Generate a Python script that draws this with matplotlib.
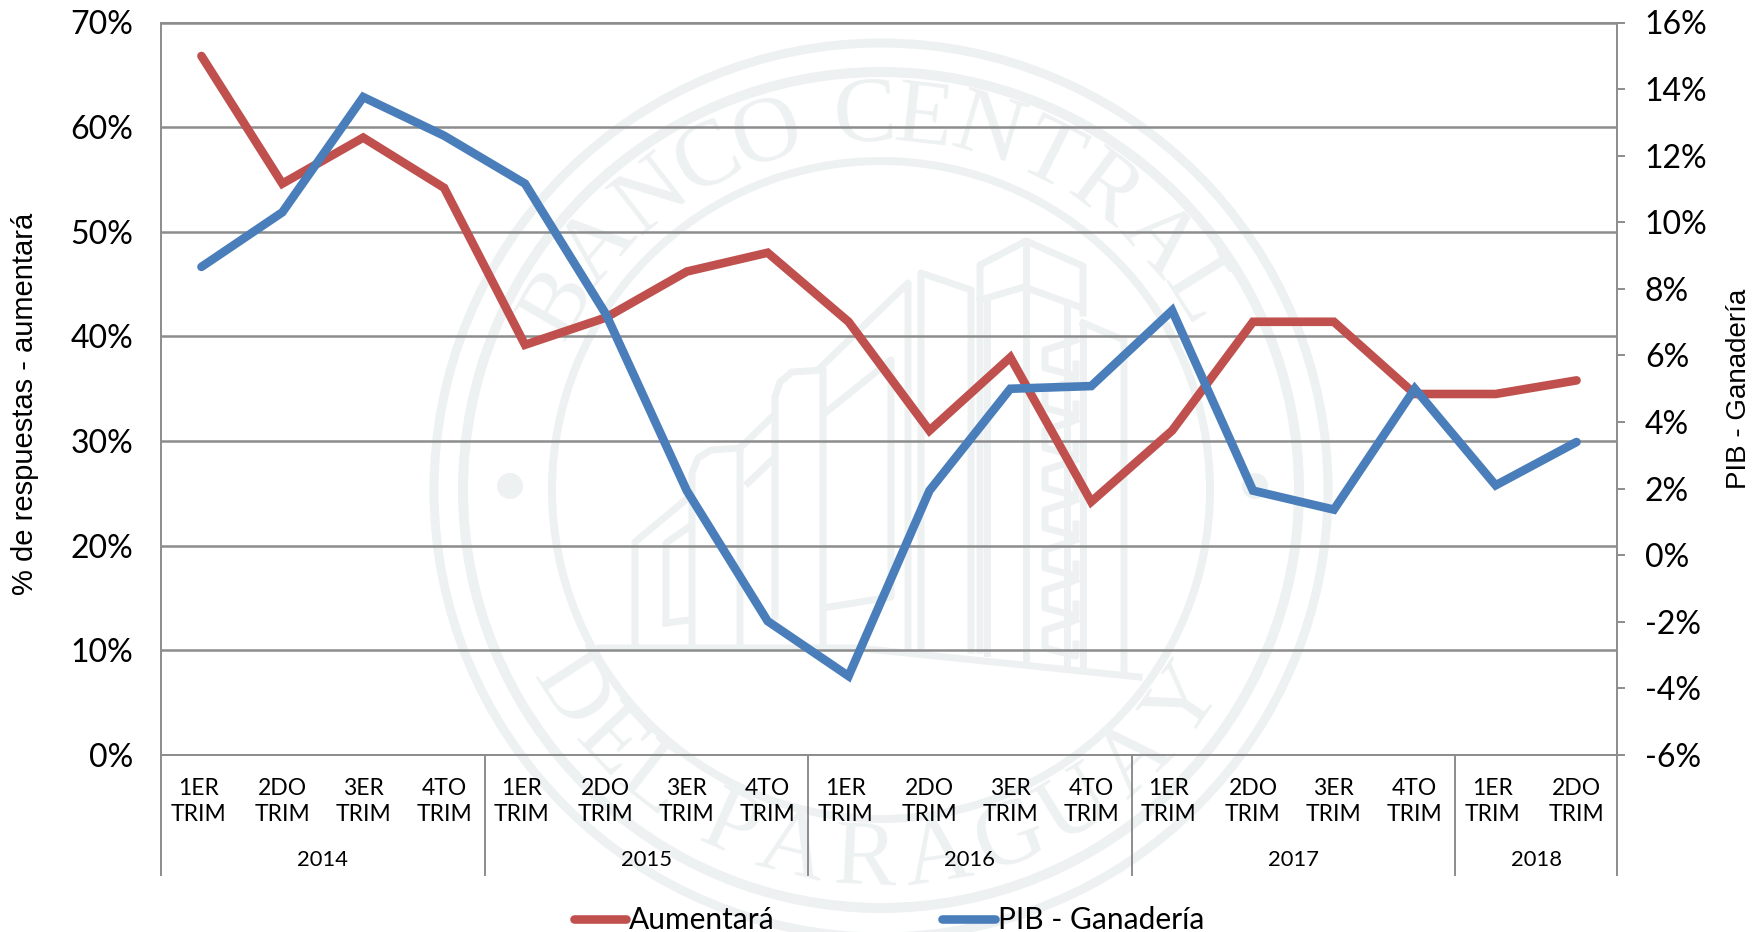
import numpy as np
import matplotlib
matplotlib.use("Agg")
import matplotlib.pyplot as plt
from matplotlib.font_manager import FontProperties
from matplotlib.lines import Line2D
from matplotlib.patches import Circle
from matplotlib.textpath import TextPath

plt.rcParams["font.family"] = ["Lato", "DejaVu Sans"]

# data
quarters = ["1ER\nTRIM", "2DO\nTRIM", "3ER\nTRIM", "4TO\nTRIM"] * 4 + ["1ER\nTRIM", "2DO\nTRIM"]
years = ["2014", "2015", "2016", "2017", "2018"]
year_sizes = [4, 4, 4, 4, 2]
aumentara = [66.8, 54.6, 59.0, 54.2, 39.2, 41.8, 46.2, 48.0, 41.4,
             31.0, 38.0, 24.2, 31.0, 41.4, 41.4, 34.5, 34.5, 35.8]
pib_ganaderia = [8.66, 10.3, 13.76, 12.6, 11.16, 7.24, 1.94, -1.98, -3.63,
                 1.94, 5.0, 5.08, 7.35, 1.94, 1.37, 5.0, 2.1, 3.4]

RED = "#C0504D"
BLUE = "#4A7EBB"
GRID = "#8C8C8C"
WATERMARK = "#EDF1F1"
LINE_W = 6.2
W, H = 1765, 932

fig = plt.figure(figsize=(W / 100, H / 100), dpi=100)


def draw_watermark():
    # seal behind the chart, in image pixels
    bg = fig.add_axes([0, 0, 1, 1], zorder=0)
    bg.set_xlim(0, W)
    bg.set_ylim(H, 0)
    bg.axis("off")
    cx, cy = 881, 490
    for radius, width in [(447, 9), (418, 10), (329, 8)]:
        bg.add_patch(Circle((cx, cy), radius, fill=False, ec=WATERMARK, lw=width * 0.72))
    for x in [510, 1255]:
        bg.add_patch(Circle((x, 486), 13, fc=WATERMARK, ec="none"))

    def arc_text(text, start, end, radius, bottom=False):
        # spread the letters by their own widths
        fp = FontProperties(family="Liberation Serif", size=68)
        widths = np.array([TextPath((0, 0), ch, prop=fp).get_extents().width if ch != " " else 22.0
                           for ch in text])
        mids = np.cumsum(widths) - widths / 2
        angles = start + (mids - mids[0]) / (mids[-1] - mids[0]) * (end - start)
        for ch, ang in zip(text, angles):
            a = np.deg2rad(ang)
            if bottom:
                x, y = cx + radius * np.sin(a), cy + radius * np.cos(a)
                rot = ang
            else:
                x, y = cx + radius * np.sin(a), cy - radius * np.cos(a)
                rot = -ang
            bg.text(x, y, ch, color=WATERMARK, fontproperties=fp,
                    rotation=rot, rotation_mode="anchor", ha="center", va="center")

    arc_text("BANCO CENTRAL", -60, 58, 372)
    arc_text("DEL PARAGUAY", -57, 55, 372, bottom=True)

    # building outline
    outlines = [
        [(635, 643), (635, 542), (689, 497)],
        [(666, 623), (666, 543), (689, 527)],
        [(666, 623), (689, 620)],
        [(692, 643), (692, 473), (698, 458), (711, 450), (740, 448), (740, 643)],
        [(740, 448), (772, 417)],
        [(748, 483), (772, 460)],
        [(775, 617), (775, 397), (780, 382), (792, 372), (823, 370), (823, 643)],
        [(821, 367), (908, 283), (908, 650)],
        [(825, 413), (891, 360), (891, 597), (829, 607)],
        [(921, 647), (921, 273), (971, 290), (971, 650)],
        [(980, 650), (980, 265), (1026, 241), (1083, 266), (1083, 313)],
        [(980, 300), (1024, 287), (1080, 307)],
        [(1026, 241), (1026, 660)],
        [(987, 303), (987, 653)],
        [(1067, 307), (1067, 667)],
        [(1083, 323), (1124, 340), (1124, 670)],
        [(1083, 323), (1083, 670)],
        [(600, 648), (858, 648), (1139, 677)],
    ]
    for pts in outlines:
        xs, ys = zip(*pts)
        bg.plot(xs, ys, color=WATERMARK, lw=5)
    # window strip of the tall tower
    for y in range(340, 640, 40):
        bg.plot([1076, 1045, 1045, 1076, 1076], [y, y + 10, y + 28, y + 36, y + 24],
                color=WATERMARK, lw=5)


draw_watermark()

ax = fig.add_axes([161 / W, 1 - 755 / H, (1617 - 161) / W, (755 - 22.5) / H], zorder=1)
ax.patch.set_alpha(0)
x = np.arange(len(aumentara))

ax.plot(x, aumentara, color=RED, lw=LINE_W, solid_joinstyle="miter", solid_capstyle="round", zorder=3)
ax.set_xlim(-0.5, len(x) - 0.5)
ax.set_ylim(0, 70)
ax.set_yticks(np.arange(0, 71, 10))
ax.set_yticklabels([f"{v}%" for v in range(0, 71, 10)], fontsize=23, color="black")
ax.set_ylabel("% de respuestas - aumentará", fontsize=21, family="Liberation Sans", va="center")
ax.yaxis.set_label_coords(-0.0933, 0.479)
ax.tick_params(axis="y", length=0, pad=20)
ax.grid(axis="y", color=GRID, lw=1.8)
ax.set_axisbelow(True)
for side in ["top", "bottom", "left", "right"]:
    ax.spines[side].set_color(GRID)
    ax.spines[side].set_linewidth(1.4)

ax2 = ax.twinx()
ax2.plot(x, pib_ganaderia, color=BLUE, lw=LINE_W, solid_joinstyle="miter", solid_capstyle="round", zorder=4)
ax2.set_ylim(-6, 16)
ax2.set_yticks(np.arange(-6, 17, 2))
ax2.set_yticklabels([f"{v}%" for v in range(-6, 17, 2)], fontsize=23, color="black")
ax2.set_ylabel("PIB - Ganadería", fontsize=20, family="Liberation Sans", va="center")
ax2.yaxis.set_label_coords(1.084, 0.5)
ax2.tick_params(axis="y", length=6, width=1.4, color=GRID, pad=14)
for side in ["top", "bottom", "left", "right"]:
    ax2.spines[side].set_visible(False)

# two level category axis
ax.set_xticks([])
trans = ax.get_xaxis_transform()
for pos, label in zip(x, quarters):
    # first quarter of each year sits a little left of its point
    nudge = -0.04 if pos % 4 == 0 else 0
    ax.text(pos + nudge, -0.0635, label, transform=trans, ha="center", va="center",
            fontsize=16.5, linespacing=1.33)
edges = np.concatenate([[0], np.cumsum(year_sizes)]) - 0.5
for edge in edges:
    ax.plot([edge, edge], [0, -0.164], transform=trans, color=GRID, lw=1.4, clip_on=False)
for left, right, year in zip(edges[:-1], edges[1:], years):
    ax.text((left + right) / 2, -0.1437, year, transform=trans, ha="center", va="center", fontsize=15.8)

handles = [
    Line2D([], [], color=RED, lw=LINE_W, solid_capstyle="round"),
    Line2D([], [], color=BLUE, lw=LINE_W, solid_capstyle="round"),
]
fig.legend(handles, ["Aumentará", "PIB - Ganadería"], loc="center", bbox_to_anchor=(889 / W, 1 - 920 / H),
           ncol=2, frameon=False, fontsize=21.5, handlelength=1.75, handletextpad=0.1, columnspacing=5.6,
           borderpad=0, borderaxespad=0)

fig.savefig("out.png", dpi=100)
